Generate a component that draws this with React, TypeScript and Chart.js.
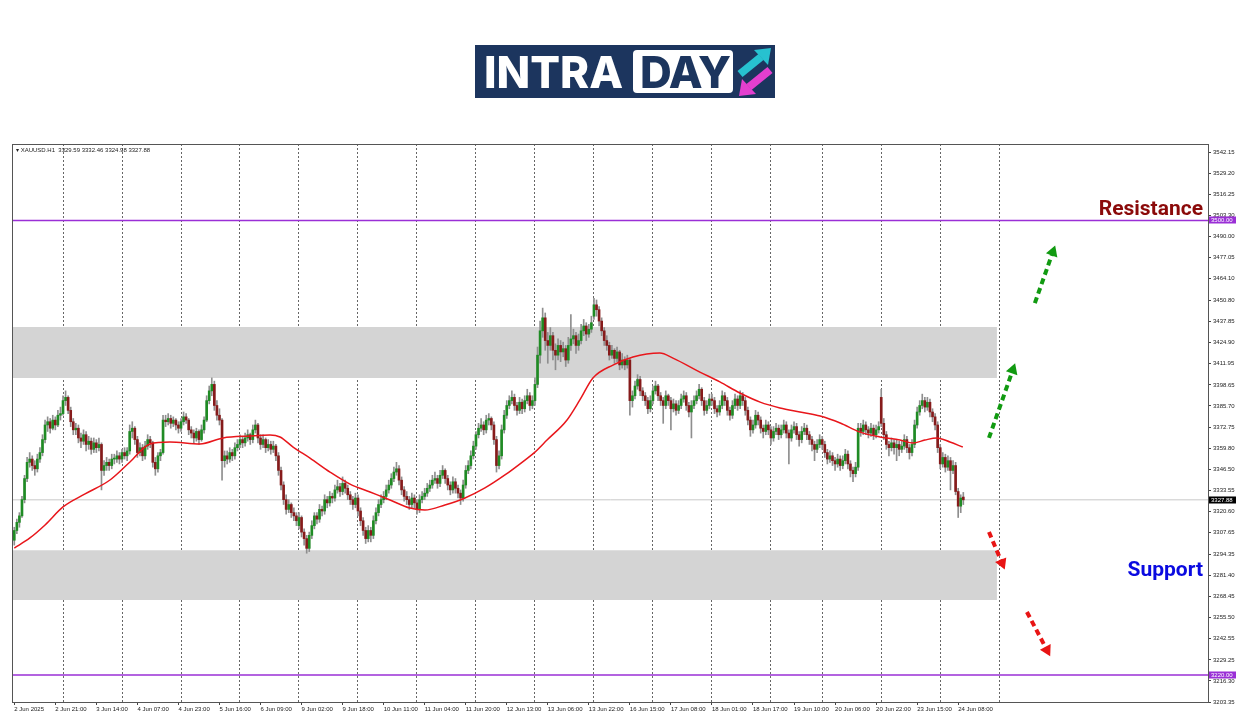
import React, { useEffect, useRef } from "react";
import { Chart, registerables } from "chart.js";

Chart.register(...registerables);

const FONT = "'Liberation Sans', Arial, sans-serif";

// H1 candles, one array per trading day: [open, high, low, close]
const jun02 = [
  [3303,3311,3300,3309],[3309,3316,3307,3314],[3314,3320,3311,3318],[3318,3330,3317,3328],[3328,3343,3326,3341],
  [3341,3354,3339,3351],[3351,3357,3348,3353],[3353,3355,3346,3349],[3349,3352,3343,3347],[3347,3356,3345,3353],
  [3353,3360,3351,3357],[3357,3368,3355,3365],[3365,3377,3363,3374],[3374,3379,3370,3376],[3376,3378,3369,3372],
  [3372,3380,3371,3377],[3377,3379,3371,3374],[3374,3383,3373,3380],[3380,3385,3377,3381],
];
const jun03 = [
  [3381,3392,3380,3389],[3389,3395,3386,3391],[3391,3392,3381,3383],[3383,3385,3373,3376],[3376,3378,3368,3371],
  [3371,3375,3368,3372],[3372,3374,3363,3366],[3366,3369,3360,3364],[3364,3371,3362,3368],[3368,3370,3358,3362],
  [3362,3367,3359,3364],[3364,3366,3356,3359],[3359,3366,3357,3363],[3363,3365,3357,3360],[3360,3366,3358,3362],
  [3362,3363,3334,3346],[3346,3352,3343,3349],[3349,3354,3346,3351],[3351,3353,3346,3349],[3349,3356,3347,3353],
  [3353,3356,3350,3353],[3353,3358,3351,3355],[3355,3357,3350,3353],
];
const jun04 = [
  [3353,3359,3351,3357],[3357,3360,3353,3355],[3355,3360,3352,3358],[3358,3374,3356,3370],[3370,3376,3366,3372],
  [3372,3373,3362,3365],[3365,3367,3354,3357],[3357,3363,3355,3360],[3360,3362,3352,3355],[3355,3364,3353,3361],
  [3361,3368,3359,3365],[3365,3367,3360,3363],[3363,3364,3348,3351],[3351,3354,3343,3347],[3347,3357,3345,3355],
  [3355,3359,3352,3357],[3357,3380,3356,3377],[3377,3380,3373,3376],[3376,3381,3374,3378],[3378,3380,3372,3375],
  [3375,3379,3373,3377],[3377,3378,3371,3374],[3374,3376,3369,3372],
];
const jun05 = [
  [3372,3378,3370,3376],[3376,3382,3374,3379],[3379,3381,3375,3377],[3377,3378,3368,3371],[3371,3373,3366,3369],
  [3369,3371,3363,3366],[3366,3372,3364,3370],[3370,3371,3362,3365],[3365,3374,3364,3371],[3371,3379,3369,3377],
  [3377,3392,3376,3389],[3389,3398,3387,3395],[3395,3403,3392,3399],[3399,3401,3383,3386],[3386,3389,3377,3380],
  [3380,3384,3374,3377],[3377,3378,3340,3352],[3352,3358,3348,3355],[3355,3358,3350,3353],[3353,3360,3351,3357],
  [3357,3359,3352,3355],[3355,3363,3353,3360],[3360,3365,3358,3362],
];
const jun06 = [
  [3362,3368,3360,3365],[3365,3367,3360,3363],[3363,3369,3361,3366],[3366,3371,3364,3368],[3368,3369,3362,3365],
  [3365,3374,3363,3371],[3371,3377,3369,3374],[3374,3375,3363,3366],[3366,3368,3359,3362],[3362,3368,3360,3365],
  [3365,3366,3357,3360],[3360,3365,3358,3362],[3362,3364,3356,3359],[3359,3364,3357,3361],[3361,3362,3352,3355],
  [3355,3357,3343,3346],[3346,3348,3334,3337],[3337,3339,3325,3328],[3328,3331,3319,3322],[3322,3328,3320,3325],
  [3325,3326,3317,3320],[3320,3323,3315,3318],[3318,3320,3312,3315],
];
const jun09 = [
  [3312,3320,3310,3317],[3317,3318,3305,3308],[3308,3310,3300,3304],[3304,3306,3295,3298],[3298,3308,3296,3306],
  [3306,3315,3304,3312],[3312,3320,3310,3318],[3318,3320,3313,3316],[3316,3325,3314,3322],[3322,3324,3318,3321],
  [3321,3331,3319,3328],[3328,3330,3323,3326],[3326,3333,3324,3330],[3330,3332,3326,3329],[3329,3337,3327,3334],
  [3334,3340,3332,3336],[3336,3338,3330,3333],[3333,3342,3331,3338],[3338,3340,3332,3335],[3335,3337,3328,3331],
  [3331,3333,3325,3328],[3328,3330,3322,3325],[3325,3332,3323,3329],
];
const jun10 = [
  [3329,3331,3318,3321],[3321,3323,3312,3315],[3315,3317,3306,3309],[3309,3311,3301,3304],[3304,3312,3302,3309],
  [3309,3311,3302,3306],[3306,3318,3304,3315],[3315,3323,3313,3320],[3320,3328,3318,3325],[3325,3331,3323,3328],
  [3328,3333,3326,3330],[3330,3337,3328,3334],[3334,3340,3332,3337],[3337,3344,3335,3341],[3341,3348,3339,3345],
  [3345,3351,3343,3347],[3347,3349,3337,3340],[3340,3342,3331,3334],[3334,3336,3327,3330],[3330,3333,3325,3328],
  [3328,3330,3322,3325],[3325,3332,3323,3329],[3329,3331,3323,3326],
];
const jun11 = [
  [3326,3328,3319,3322],[3322,3331,3320,3328],[3328,3333,3326,3330],[3330,3335,3328,3332],[3332,3338,3330,3335],
  [3335,3340,3333,3337],[3337,3343,3335,3340],[3340,3345,3338,3341],[3341,3343,3335,3338],[3338,3346,3336,3343],
  [3343,3349,3341,3346],[3346,3347,3338,3341],[3341,3343,3334,3337],[3337,3339,3331,3334],[3334,3342,3332,3339],
  [3339,3341,3332,3335],[3335,3337,3329,3332],[3332,3334,3325,3329],[3329,3340,3327,3337],[3337,3349,3335,3346],
  [3346,3352,3344,3349],[3349,3358,3347,3355],[3355,3364,3353,3361],
];
const jun12 = [
  [3361,3370,3359,3368],[3368,3375,3366,3372],[3372,3378,3370,3374],[3374,3376,3368,3371],[3371,3380,3369,3377],
  [3377,3381,3374,3378],[3378,3379,3371,3374],[3374,3376,3362,3365],[3365,3367,3345,3349],[3349,3358,3347,3355],
  [3355,3374,3353,3371],[3371,3383,3369,3380],[3380,3389,3378,3386],[3386,3392,3384,3389],[3389,3395,3387,3391],
  [3391,3393,3383,3386],[3386,3388,3380,3383],[3383,3391,3381,3388],[3388,3390,3381,3384],[3384,3392,3382,3389],
  [3389,3396,3387,3392],[3392,3394,3383,3386],[3386,3392,3384,3389],
];
const jun13 = [
  [3389,3403,3386,3399],[3399,3422,3397,3417],[3417,3438,3412,3432],[3432,3446,3428,3440],[3440,3443,3420,3426],
  [3426,3431,3412,3423],[3423,3434,3420,3429],[3429,3431,3414,3420],[3420,3424,3408,3417],[3417,3427,3414,3423],
  [3423,3426,3413,3419],[3419,3425,3416,3421],[3421,3423,3410,3414],[3414,3428,3412,3423],[3423,3442,3420,3427],
  [3427,3433,3424,3429],[3429,3431,3418,3423],[3423,3430,3420,3426],[3426,3436,3424,3432],[3432,3439,3429,3435],
  [3435,3437,3426,3430],[3430,3436,3428,3433],[3433,3441,3431,3437],
];
const jun16 = [
  [3441,3452,3439,3448],[3448,3451,3441,3445],[3445,3447,3435,3438],[3438,3440,3429,3432],[3432,3434,3423,3426],
  [3426,3429,3420,3423],[3423,3425,3414,3417],[3417,3423,3415,3420],[3420,3421,3412,3415],[3415,3422,3413,3419],
  [3419,3420,3408,3411],[3411,3418,3409,3414],[3414,3416,3408,3411],[3411,3417,3409,3414],[3414,3415,3380,3389],
  [3389,3395,3385,3392],[3392,3401,3390,3398],[3398,3405,3396,3402],[3402,3404,3392,3395],[3395,3397,3389,3392],
  [3392,3394,3386,3389],[3389,3391,3381,3384],[3384,3392,3382,3389],
];
const jun17 = [
  [3389,3398,3387,3395],[3395,3401,3393,3398],[3398,3399,3389,3392],[3392,3394,3386,3389],[3389,3391,3375,3386],
  [3386,3395,3384,3392],[3392,3393,3386,3389],[3389,3391,3371,3384],[3384,3390,3382,3387],[3387,3389,3380,3383],
  [3383,3389,3381,3386],[3386,3393,3384,3390],[3390,3395,3388,3392],[3392,3394,3383,3386],[3386,3388,3379,3382],
  [3382,3389,3366,3386],[3386,3392,3384,3389],[3389,3395,3387,3392],[3392,3399,3390,3396],[3396,3397,3386,3389],
  [3389,3391,3380,3383],[3383,3389,3381,3386],[3386,3393,3384,3390],
];
const jun18 = [
  [3390,3393,3386,3389],[3389,3391,3381,3384],[3384,3386,3379,3382],[3382,3389,3380,3386],[3386,3395,3384,3392],
  [3392,3394,3386,3389],[3389,3391,3380,3383],[3383,3385,3377,3380],[3380,3389,3378,3386],[3386,3393,3384,3390],
  [3390,3392,3383,3386],[3386,3395,3384,3392],[3392,3394,3386,3389],[3389,3391,3380,3383],[3383,3385,3374,3377],
  [3377,3379,3367,3371],[3371,3377,3369,3374],[3374,3383,3372,3380],[3380,3382,3374,3377],[3377,3379,3369,3372],
  [3372,3374,3366,3370],[3370,3377,3368,3374],[3374,3376,3368,3371],
];
const jun19 = [
  [3371,3373,3362,3366],[3366,3373,3364,3370],[3370,3375,3368,3372],[3372,3374,3365,3368],[3368,3374,3366,3371],
  [3371,3377,3369,3374],[3374,3376,3366,3369],[3369,3371,3350,3366],[3366,3374,3364,3371],[3371,3376,3369,3373],
  [3373,3375,3365,3368],[3368,3370,3361,3365],[3365,3373,3363,3370],[3370,3375,3368,3372],[3372,3374,3365,3368],
  [3368,3370,3362,3365],[3365,3367,3358,3362],[3362,3364,3352,3359],[3359,3365,3357,3362],[3362,3368,3360,3365],
];
const jun20 = [
  [3365,3367,3359,3362],[3362,3364,3354,3357],[3357,3359,3350,3353],[3353,3358,3351,3355],[3355,3357,3349,3352],
  [3352,3354,3346,3350],[3350,3356,3348,3353],[3353,3355,3346,3349],[3349,3355,3347,3352],[3352,3359,3350,3356],
  [3356,3358,3347,3350],[3350,3352,3342,3346],[3346,3348,3339,3344],[3344,3351,3342,3348],[3348,3375,3346,3372],
  [3372,3375,3367,3370],[3370,3377,3368,3374],[3374,3376,3368,3371],[3371,3373,3366,3369],[3369,3375,3367,3372],
  [3372,3374,3365,3368],[3368,3374,3366,3371],[3371,3376,3369,3373],
];
const jun23 = [
  [3391,3396,3373,3375],[3375,3378,3365,3368],[3368,3370,3359,3362],[3362,3364,3355,3360],[3360,3366,3358,3363],
  [3363,3365,3356,3360],[3360,3365,3352,3362],[3362,3364,3355,3359],[3359,3364,3357,3361],[3361,3368,3359,3365],
  [3365,3367,3357,3360],[3360,3362,3353,3357],[3357,3365,3355,3362],[3362,3377,3360,3374],[3374,3385,3372,3382],
  [3382,3389,3380,3386],[3386,3393,3384,3389],[3389,3391,3382,3385],[3385,3391,3383,3388],[3388,3390,3379,3382],
  [3382,3384,3376,3379],[3379,3381,3371,3374],[3374,3376,3357,3360],
];
const jun24 = [
  [3360,3362,3347,3350],[3350,3357,3348,3354],[3354,3356,3345,3348],[3348,3355,3346,3352],[3352,3354,3334,3346],
  [3346,3352,3344,3349],[3349,3351,3331,3333],[3333,3335,3317,3324],[3324,3331,3320,3329],
  [3329.59,3332.46,3324.98,3327.88],
];
const candles = [
  ...jun02, ...jun03, ...jun04, ...jun05, ...jun06,
  ...jun09, ...jun10, ...jun11, ...jun12, ...jun13,
  ...jun16, ...jun17, ...jun18, ...jun19, ...jun20,
  ...jun23, ...jun24,
];

// moving average (red), read at sample bars
const maBars = [0,6.1,12,19,27.6,37.3,45.1,52.9,60.7,72.4,81.4,91.9,99.7,103.6,108.7,115.3,123.1,130.9,138.7,146.5,154.3,160.1,167.9,175.7,183.5,191.3,199.1,203,207.7,215.5,220.5,225.6,233.4,241.2,251.7,256.8,267.3,275.1,282.9,290.8,298.5,306.3,314.2,322,329.7,337.5,345.3,350.4,355,359.7,364.8,369.8];
const maValues = [3298.2,3304.4,3312.4,3323.5,3331.5,3340.1,3351.2,3362.3,3363.5,3362.3,3366.0,3367.2,3367.8,3366.6,3360.4,3353.6,3345.0,3337.6,3332.7,3327.8,3322.8,3321.6,3324.7,3329.0,3335.2,3343.2,3352.4,3357.3,3364.7,3377.1,3389.4,3402.9,3410.9,3415.9,3418.3,3415.2,3406.6,3400.5,3393.7,3388.1,3384.5,3382.0,3379.5,3375.2,3369.6,3366.6,3364.7,3362.9,3364.7,3366.0,3363.5,3360.4];

const priceTicks = [3542.15,3529.20,3516.25,3503.30,3490.00,3477.05,3464.10,3450.80,3437.85,3424.90,3411.95,3398.65,3385.70,3372.75,3359.80,3346.50,3333.55,3320.60,3307.65,3294.35,3281.40,3268.45,3255.50,3242.55,3229.25,3216.30,3203.35];

const timeTickBars = [0,16,32,48,64,80,96,112,128,144,160,176,192,208,224,240,256,272,288,304,320,336,352,368];
const timeTickLabels = ["2 Jun 2025","2 Jun 21:00","3 Jun 14:00","4 Jun 07:00","4 Jun 23:00","5 Jun 16:00","6 Jun 09:00","9 Jun 02:00","9 Jun 18:00","10 Jun 11:00","11 Jun 04:00","11 Jun 20:00","12 Jun 13:00","13 Jun 06:00","13 Jun 22:00","16 Jun 15:00","17 Jun 08:00","18 Jun 01:00","18 Jun 17:00","19 Jun 10:00","20 Jun 06:00","20 Jun 22:00","23 Jun 15:00","24 Jun 08:00"];
const dayStartBars = [19,42,65,88,111,134,157,180,203,226,249,272,295,315,338,361,384];

const resistanceLevel = 3500;
const supportLevel = 3220;
const lastPrice = 3327.88;
const upperZone = [3402.9, 3434.4];
const lowerZone = [3266.2, 3296.9];
const zoneEndBar = 383.1;

const greenArrow1 = [[380.0, 3366.0], [389.3, 3407.9]];
const greenArrow2 = [[397.9, 3449.1], [404.9, 3480.5]];
const redArrow1 = [[380.0, 3308.1], [385.1, 3289.0]];
const redArrow2 = [[394.8, 3258.8], [402.6, 3235.4]];

const X_MIN = -0.5;
const X_MAX = 465.4;
const Y_MIN = 3203.35;
const Y_MAX = 3547.08;

const BULL = "#1f8b24";
const BEAR = "#861b1b";
const PURPLE = "#9a2fd6";

const priceBoxes: [number, string, string][] = [
  [resistanceLevel, PURPLE, "3500.00"],
  [supportLevel, PURPLE, "3220.00"],
  [lastPrice, "#000000", "3327.88"],
];

const framePlugin = {
  id: "frame",
  afterDraw(chart: any) {
    const { ctx, chartArea: a } = chart;
    ctx.save();
    ctx.strokeStyle = "#555";
    ctx.lineWidth = 1;
    ctx.strokeRect(Math.round(a.left) - 0.5, Math.round(a.top) + 0.5, Math.round(a.right - a.left) + 1, Math.round(a.bottom - a.top));
    const ys = chart.scales.y;
    ctx.font = `6px ${FONT}`;
    ctx.textBaseline = "middle";
    ctx.textAlign = "left";
    priceBoxes.forEach(([v, bg, t]) => {
      const py = ys.getPixelForValue(v);
      ctx.fillStyle = bg;
      ctx.fillRect(Math.round(a.right) + 1, Math.round(py) - 3.5, 27, 7);
      ctx.fillStyle = "#fff";
      ctx.fillText(t, Math.round(a.right) + 3, Math.round(py) + 0.5);
    });
    ctx.restore();
  },
};

function hline(y: number, color: string, width: number, order: number) {
  return {
    type: "line",
    data: [{ x: X_MIN, y }, { x: X_MAX, y }],
    borderColor: color,
    borderWidth: width,
    pointRadius: 0,
    order,
  };
}

function zone(range: number[]) {
  return {
    type: "line",
    data: [{ x: X_MIN, y: range[1] }, { x: zoneEndBar, y: range[1] }],
    borderWidth: 0,
    borderColor: "rgba(0,0,0,0)",
    backgroundColor: "#d4d4d4",
    fill: { value: range[0] },
    pointRadius: 0,
    order: 30,
  };
}

function arrow(pts: number[][], color: string, rotation: number) {
  return {
    type: "line",
    data: pts.map(([x, y]) => ({ x, y })),
    borderColor: color,
    borderWidth: 4,
    borderDash: [6, 4],
    pointRadius: [0, 7],
    pointStyle: "triangle",
    rotation: [0, rotation],
    pointBackgroundColor: color,
    pointBorderColor: color,
    pointBorderWidth: 0,
    order: 1,
  };
}

export default function App() {
  const ref = useRef<HTMLCanvasElement | null>(null);
  useEffect(() => {
    if (!ref.current) return;
    const labelMap = new Map(timeTickBars.map((b, k) => [b, timeTickLabels[k]]));
    const chart = new Chart(ref.current, {
      type: "bar",
      data: {
        datasets: [
          arrow(greenArrow1, "#119a11", 19.4),
          arrow(greenArrow2, "#119a11", 19.4),
          arrow(redArrow1, "#e81414", 157.3),
          arrow(redArrow2, "#e81414", 152.2),
          {
            type: "line",
            data: maBars.map((x, k) => ({ x, y: maValues[k] })),
            borderColor: "#e8161b",
            borderWidth: 1.5,
            pointRadius: 0,
            cubicInterpolationMode: "monotone",
            order: 3,
          },
          {
            type: "bar",
            data: candles.map((c, i) => ({ x: i, y: [c[0], c[3]] })),
            backgroundColor: candles.map((c) => (c[3] >= c[0] ? BULL : BEAR)),
            barThickness: 2,
            minBarLength: 1,
            grouped: false,
            order: 8,
          },
          {
            type: "bar",
            data: candles.map((c, i) => ({ x: i, y: [c[2], c[1]] })),
            backgroundColor: "#8e8e8e",
            barThickness: 1,
            grouped: false,
            order: 9,
          },
          hline(resistanceLevel, PURPLE, 1.5, 12),
          hline(supportLevel, PURPLE, 1.5, 12),
          hline(lastPrice, "#c8c8c8", 1, 14),
          zone(upperZone),
          zone(lowerZone),
        ] as any,
      },
      options: {
        animation: false,
        responsive: false,
        events: [],
        layout: { padding: { left: 13, top: 144, right: 0, bottom: 0 } },
        plugins: { legend: { display: false }, tooltip: { enabled: false } },
        scales: {
          x: {
            type: "linear",
            position: "bottom",
            min: X_MIN,
            max: X_MAX,
            offset: false,
            afterBuildTicks: (s: any) => {
              s.ticks = timeTickBars.map((v) => ({ value: v }));
            },
            afterFit: (s: any) => {
              s.height = 14;
            },
            ticks: {
              autoSkip: false,
              maxRotation: 0,
              align: "start",
              padding: 1,
              color: "#222",
              font: { family: FONT, size: 6 },
              callback: (v: any) => labelMap.get(Number(v)) ?? "",
            },
            grid: { drawOnChartArea: false, drawTicks: true, tickLength: 3, tickColor: "#444", offset: false },
            border: { display: false },
          },
          x2: {
            type: "linear",
            position: "top",
            min: X_MIN,
            max: X_MAX,
            offset: false,
            afterBuildTicks: (s: any) => {
              s.ticks = dayStartBars.map((v) => ({ value: v }));
            },
            afterFit: (s: any) => {
              s.height = 0;
            },
            ticks: { display: false },
            grid: { drawTicks: false, color: "#666", lineWidth: 1, offset: false },
            border: { display: false, dash: [2, 2] },
          },
          y: {
            type: "linear",
            position: "right",
            min: Y_MIN,
            max: Y_MAX,
            beginAtZero: false,
            afterBuildTicks: (s: any) => {
              s.ticks = priceTicks.map((v) => ({ value: v }));
            },
            afterFit: (s: any) => {
              s.width = 42;
            },
            ticks: {
              autoSkip: false,
              padding: 2,
              color: "#222",
              font: { family: FONT, size: 6 },
              callback: (v: any) => Number(v).toFixed(2),
            },
            grid: { drawOnChartArea: false, drawTicks: true, tickLength: 3, tickColor: "#444" },
            border: { display: false },
          },
        },
      } as any,
      plugins: [framePlugin],
    });
    return () => chart.destroy();
  }, []);

  return (
    <div style={{ position: "fixed", left: 0, top: 0, width: 1250, height: 716, background: "#fff", overflow: "hidden" }}>
      <canvas ref={ref} width={1250} height={716} style={{ position: "absolute", left: 0, top: 0 }} />
      <div style={{ position: "absolute", left: 475, top: 45, width: 300, height: 53, background: "#1c355e" }}>
        <span style={{ position: "absolute", left: 9, top: 1, color: "#fff", font: "800 44px Inter, sans-serif", letterSpacing: 0, lineHeight: "52px" }}>INTRA</span>
        <div style={{ position: "absolute", left: 158, top: 5, width: 100, height: 43, background: "#fff", borderRadius: 4 }}>
          <span style={{ position: "absolute", left: 7, top: -4, color: "#1c355e", font: "800 44px Inter, sans-serif", letterSpacing: -1, lineHeight: "52px" }}>DAY</span>
        </div>
        <svg style={{ position: "absolute", left: 262, top: 2 }} width="36" height="50" viewBox="0 0 36 50">
          <line x1="3" y1="27" x2="24" y2="10" stroke="#27c1d0" strokeWidth="8" />
          <polygon points="34,1 17,3 31,18" fill="#27c1d0" />
          <line x1="12" y1="40" x2="33" y2="23" stroke="#e33fcf" strokeWidth="8" />
          <polygon points="2,49 5,32 19,47" fill="#e33fcf" />
        </svg>
      </div>
      <div style={{ position: "absolute", left: 16, top: 146, font: `6px ${FONT}`, color: "#222", whiteSpace: "pre" }}>
        {"▾ XAUUSD.H1  3329.59 3332.46 3324.98 3327.88"}
      </div>
      <div style={{ position: "absolute", right: 47, top: 196, font: "bold 21px Roboto, sans-serif", color: "#8b0a0a", lineHeight: "24px" }}>
        Resistance
      </div>
      <div style={{ position: "absolute", right: 47, top: 557, font: "bold 21px Roboto, sans-serif", color: "#0a0ae0", lineHeight: "24px" }}>
        Support
      </div>
    </div>
  );
}
